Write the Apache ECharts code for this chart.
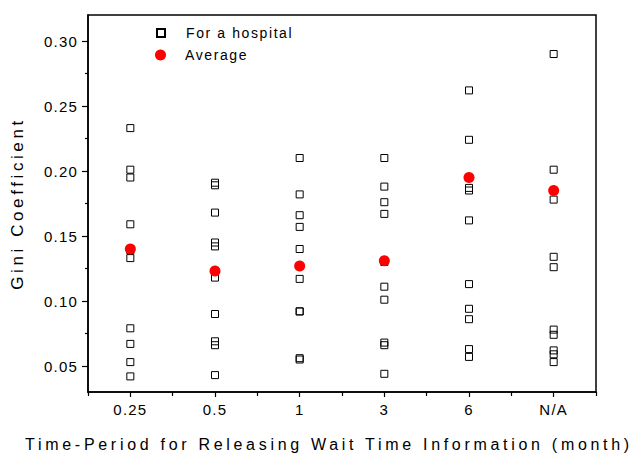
<!DOCTYPE html>
<html>
<head>
<meta charset="utf-8">
<script src="https://cdn.jsdelivr.net/npm/echarts@6/dist/echarts.min.js"></script>
<style>
html,body{margin:0;padding:0;background:#fff;}
#chart{width:634px;height:461px;}
</style>
</head>
<body>
<div id="chart"></div>
<script>
// ---- data ----
var categories = ['0.25', '0.5', '1', '3', '6', 'N/A'];
var hosp_025 = [0.233, 0.201, 0.195, 0.159, 0.139, 0.133, 0.079, 0.067, 0.053, 0.042];
var hosp_05  = [0.191, 0.189, 0.168, 0.145, 0.142, 0.118, 0.090, 0.069, 0.066, 0.043];
var hosp_1   = [0.210, 0.182, 0.166, 0.157, 0.140, 0.117, 0.092, 0.092, 0.056, 0.055];
var hosp_3   = [0.210, 0.188, 0.176, 0.167, 0.130, 0.111, 0.101, 0.068, 0.066, 0.044];
var hosp_6   = [0.262, 0.224, 0.187, 0.185, 0.162, 0.113, 0.094, 0.086, 0.063, 0.057];
var hosp_NA  = [0.290, 0.201, 0.178, 0.134, 0.126, 0.078, 0.074, 0.062, 0.059, 0.053];
var averages = [0.140, 0.123, 0.127, 0.131, 0.195, 0.185];
var yTickLabels = [0.05, 0.10, 0.15, 0.20, 0.25, 0.30];
var yMinorTicks = [0.075, 0.125, 0.175, 0.225, 0.275];

var hospGroups = [hosp_025, hosp_05, hosp_1, hosp_3, hosp_6, hosp_NA];
var hospData = [];
hospGroups.forEach(function (arr, i) {
  arr.forEach(function (v) { hospData.push([categories[i], v]); });
});
var avgData = averages.map(function (v, i) { return [categories[i], v]; });

var FONT = "'Liberation Sans', Arial, sans-serif";
var chart = echarts.init(document.getElementById('chart'), null, {renderer: 'svg'});
var option = {
  animation: false,
  backgroundColor: '#fff',
  grid: {left: 88, right: 38, top: 15, bottom: 69, show: true, borderColor: '#000', borderWidth: 1.5, backgroundColor: 'transparent'},
  legend: [
    {orient: 'vertical', left: 151, top: 21, itemWidth: 8, itemHeight: 8, data: [{name: 'For a hospital', icon: 'rect'}],
     textStyle: {fontFamily: FONT, fontSize: 14, color: '#000', padding: [0, 0, 0, 16]}},
    {orient: 'vertical', left: 150, top: 43, itemWidth: 11, itemHeight: 11, data: [{name: 'Average', icon: 'circle'}],
     textStyle: {fontFamily: FONT, fontSize: 14, color: '#000', padding: [0, 0, 0, 14]}}
  ],
  xAxis: [
    {type: 'category', data: categories, boundaryGap: true, position: 'bottom',
     axisLine: {lineStyle: {color: '#000', width: 1.5}},
     axisTick: {show: true, length: 4, lineStyle: {color: '#000', width: 1.2}},
     axisLabel: {fontFamily: FONT, fontSize: 15, color: '#000', margin: 10},
     name: 'Time-Period for Releasing Wait Time Information (month)', nameLocation: 'middle', nameGap: 44,
     nameTextStyle: {fontFamily: FONT, fontSize: 16, color: '#000', padding: [0, 26, 0, 0]}},
    {type: 'category', data: categories, boundaryGap: true, position: 'bottom',
     axisLine: {show: false},
     axisTick: {show: true, alignWithLabel: true, length: 5, lineStyle: {color: '#000', width: 1.2}},
     axisLabel: {show: false}}
  ],
  yAxis: [
    {type: 'value', min: 0.03, max: 0.32, position: 'left',
     splitLine: {show: false},
     axisLine: {show: true, lineStyle: {color: '#000', width: 1.5}},
     axisTick: {show: true, length: 6, customValues: yTickLabels, lineStyle: {color: '#000', width: 1.2}},
     axisLabel: {fontFamily: FONT, fontSize: 15, color: '#000', margin: 10, customValues: yTickLabels,
       formatter: function (v) { return v.toFixed(2); }},
     name: 'Gini Coefficient', nameLocation: 'middle', nameGap: 62, nameRotate: 90,
     nameTextStyle: {fontFamily: FONT, fontSize: 17, color: '#000'}},
    {type: 'value', min: 0.03, max: 0.32, position: 'left',
     splitLine: {show: false}, axisLine: {show: false},
     axisTick: {show: true, length: 3, customValues: yMinorTicks, lineStyle: {color: '#000', width: 1.2}},
     axisLabel: {show: false}}
  ],
  series: [
    {name: 'For a hospital', type: 'scatter', symbol: 'rect', symbolSize: 7, data: hospData,
     itemStyle: {color: 'rgba(255,255,255,0)', borderColor: '#000', borderWidth: 1, opacity: 1}, z: 2},
    {name: 'Average', type: 'scatter', symbol: 'circle', symbolSize: 11, data: avgData,
     itemStyle: {color: '#ff0000', opacity: 1}, z: 3}
  ]
};
chart.setOption(option);

function spaceText() {
  var texts = document.querySelectorAll('#chart text');
  texts.forEach(function (t) {
    var s = t.textContent;
    if (s.indexOf('Time-Period') === 0) t.style.letterSpacing = '3.7px';
    else if (s === 'Gini Coefficient') t.style.letterSpacing = '3.6px';
    else if (s === 'For a hospital' || s === 'Average') t.style.letterSpacing = '1.6px';
    else t.style.letterSpacing = '1.2px';
  });
}
chart.on('finished', spaceText);
spaceText();
</script>
</body>
</html>
